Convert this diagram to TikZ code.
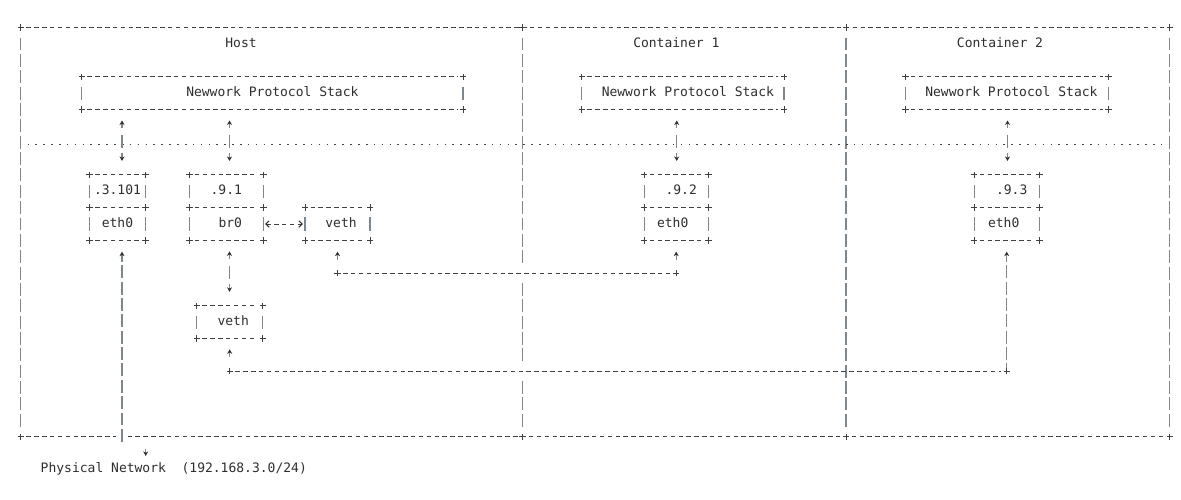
\documentclass[tikz,border=0pt]{standalone}
\usepackage{fontspec}
\setmonofont{DejaVu Sans Mono}
\usetikzlibrary{arrows.meta,calc}
\definecolor{txt}{HTML}{2e2e2e}
\definecolor{dashc}{HTML}{404040}
\definecolor{barc}{HTML}{7d8790}
\newcommand\plusmk[1]{\draw[plusst] ([xshift=-3.2pt]#1) -- ([xshift=3.2pt]#1) ([yshift=-3.2pt]#1) -- ([yshift=3.2pt]#1);}
\newcommand\boxfrm[1]{%
  \draw[hd] ([xshift=5.6pt]#1.north west) -- ([xshift=-5.6pt]#1.north east);
  \draw[hd] ([xshift=5.6pt]#1.south west) -- ([xshift=-5.6pt]#1.south east);
  \draw[vb] ([yshift=-9.8pt]#1.north west) -- ([yshift=9.8pt]#1.south west);
  \draw[vb] ([yshift=-9.8pt]#1.north east) -- ([yshift=9.8pt]#1.south east);
  \plusmk{#1.north west}\plusmk{#1.north east}\plusmk{#1.south west}\plusmk{#1.south east}}
\tikzset{
  lbl/.style={font=\ttfamily\fontsize{13pt}{15pt}\selectfont, text=txt, inner sep=0pt, outer sep=0pt, text height=7pt, text depth=0pt},
  cell/.style={lbl, minimum height=32.72pt, anchor=center},
  hd/.style={draw=dashc, line width=1pt, dash pattern=on 4.5pt off 3.37pt},
  vb/.style={draw=barc, line width=1.1pt},
  vd/.style={vb, dash pattern=on 12.9pt off 3.46pt},
  ud/.style={vb, dash pattern=on 4.5pt off 7.5pt on 12.5pt off 5.5pt on 10pt},
  plusst/.style={draw=dashc, line width=1pt},
  dotst/.style={draw=dashc, line width=1.6pt, dash pattern=on 1.6pt off 6.27pt},
}
\begin{document}
\begin{tikzpicture}[x=1pt,y=-1pt, >={Stealth[length=4.5pt,width=5pt,color=txt]}]
\useasboundingbox (0,0) rectangle (1181,500);
% frame coordinates
\coordinate (tl) at (20.7,27.7);
\coordinate (t1) at (522.3,27.7);
\coordinate (t2) at (846,27.7);
\coordinate (tr) at (1169.7,27.7);
\coordinate (bl) at (20.7,436.7);
\coordinate (bx) at (122,436.7);
\coordinate (b1) at (522.3,436.7);
\coordinate (b2) at (846,436.7);
\coordinate (br) at (1169.7,436.7);
% frame
\draw[hd, shorten <=5.6pt, shorten >=5.6pt] (tl) -- (tr);
\draw[hd, shorten <=5.6pt, shorten >=5.6pt] (bl) -- (bx);
\draw[hd, shorten <=5.6pt, shorten >=5.6pt] (bx) -- (br);
\draw[vd] (20.7,37.56) -- (20.7,426.74);
\draw[vd] (522.3,37.56) -- (522.3,263.14);
\draw[vd] (522.3,282.96) -- (522.3,361.3);
\draw[vd] (522.3,381.12) -- (522.3,426.74);
\draw[vd] (846,37.56) -- (846,426.74);
\draw[vd] (1169.7,37.56) -- (1169.7,426.74);
\foreach \c in {tl,t1,t2,tr,bl,b1,b2,br} {\plusmk{\c}}
% dotted separator
\draw[dotst] (27.5,144.5) -- (1166,144.5);
% titles
\node[lbl] (thost) at (241,44.06) {Host};
\node[lbl] (tc1) at (676.3,44.06) {Container 1};
\node[lbl] (tc2) at (1000,44.06) {Container 2};
% protocol stacks
\node[cell, minimum width=381.3pt] (hstack) at (272.35,93.14) {Newwork Protocol Stack};
\node[cell, minimum width=202.3pt] (c1stack) at (682.85,93.14) {\hspace*{10pt}Newwork Protocol Stack};
\node[cell, minimum width=203.2pt] (c2stack) at (1006.9,93.14) {\hspace*{9pt}Newwork Protocol Stack};
% host interfaces
\node[cell, minimum width=56pt] (heth0ip) at (117.5,191.3) {.3.101};
\node[cell, minimum width=56pt] (heth0) at (117.5,224.02) {eth0};
\node[cell, minimum width=74pt] (br0ip) at (226.3,191.3) {.9.1};
\node[cell, minimum width=74pt] (br0) at (226.3,224.02) {\hspace*{8pt}br0};
\node[cell, minimum width=65pt] (hveth) at (337.5,224.02) {\hspace*{7pt}veth};
\node[cell, minimum width=66pt] (hveth2) at (229.7,322.18) {\hspace*{7pt}veth};
% container interfaces
\node[cell, minimum width=64.3pt] (c1ip) at (676.2,191.3) {\hspace*{10pt}.9.2};
\node[cell, minimum width=64.3pt] (c1eth0) at (676.2,224.02) {eth0\hspace*{7pt}};
\node[cell, minimum width=65.3pt] (c2ip) at (1006.7,191.3) {\hspace*{10pt}.9.3};
\node[cell, minimum width=65.3pt] (c2eth0) at (1006.7,224.02) {eth0\hspace*{6pt}};
% physical network label
\node[lbl] (phys) at (173.8,469.42) {Physical Network\ \ (192.168.3.0/24)};
% box frames
\foreach \b in {hstack,c1stack,c2stack,heth0ip,heth0,br0ip,br0,hveth,hveth2,c1ip,c1eth0,c2ip,c2eth0} {\boxfrm{\b}}
% connector helper coordinates
\coordinate (xa) at (122,0);
\coordinate (xb) at (229.5,0);
\coordinate (xc) at (676.7,0);
\coordinate (xd) at (1007.5,0);
\coordinate (ya) at (0,273.1);
\coordinate (yb) at (0,371.26);
\coordinate (hb) at (122,443.1);
\coordinate (pa) at (145.7,448.5);
\coordinate (j1) at (hveth.south |- ya);
\coordinate (j2) at (c1eth0.south |- ya);
\coordinate (j3) at (hveth2.south |- yb);
\coordinate (j4) at (c2eth0.south |- yb);
% stack <-> interface connectors
\draw[ud, <->, shorten <=11pt, shorten >=14pt] (hstack.south -| xa) -- (heth0ip.north -| xa);
\draw[ud, <->, shorten <=11pt, shorten >=14pt] (hstack.south -| xb) -- (br0ip.north -| xb);
\draw[ud, <->, shorten <=11pt, shorten >=14pt] (c1stack.south -| xc) -- (c1ip.north -| xc);
\draw[ud, <->, shorten <=11pt, shorten >=14pt] (c2stack.south -| xd) -- (c2ip.north -| xd);
% br0 <-> veth
\draw[hd, {Straight Barb[length=3.5pt,width=6.5pt,color=txt]}-{Straight Barb[length=3.5pt,width=6.5pt,color=txt]}, shorten <=1.7pt, shorten >=2pt] (br0.east) -- (hveth.west);
% br0 <-> lower veth
\draw[ud, <->, shorten <=11pt, shorten >=14pt] (br0.south -| xb) -- (hveth2.north -| xb);
% host eth0 down to physical network
\draw[vd, <-, dash phase=5.5pt, shorten <=11.3pt] (heth0.south -| xa) -- (hb);
\draw[vb, ->, shorten >=10pt] (pa) -- (phys.north -| pa);
% veth <-> container 1 eth0
\draw[vb, ->, shorten <=13pt, shorten >=11.3pt] (j1) -- (hveth.south);
\draw[hd, shorten <=5.6pt, shorten >=5.6pt] (j1) -- (j2);
\draw[vb, ->, shorten <=13pt, shorten >=11.3pt] (j2) -- (c1eth0.south);
\plusmk{j1}\plusmk{j2}
% lower veth <-> container 2 eth0
\draw[vb, ->, shorten <=14.5pt, shorten >=10.8pt] (j3) -- (hveth2.south);
\draw[hd, shorten <=5.6pt, shorten >=5.6pt] (j3) -- (j4);
\draw[vd, <-, dash phase=5.5pt, shorten <=11.3pt, shorten >=3pt] (c2eth0.south) -- (j4);
\plusmk{j3}\plusmk{j4}
\end{tikzpicture}
\end{document}
